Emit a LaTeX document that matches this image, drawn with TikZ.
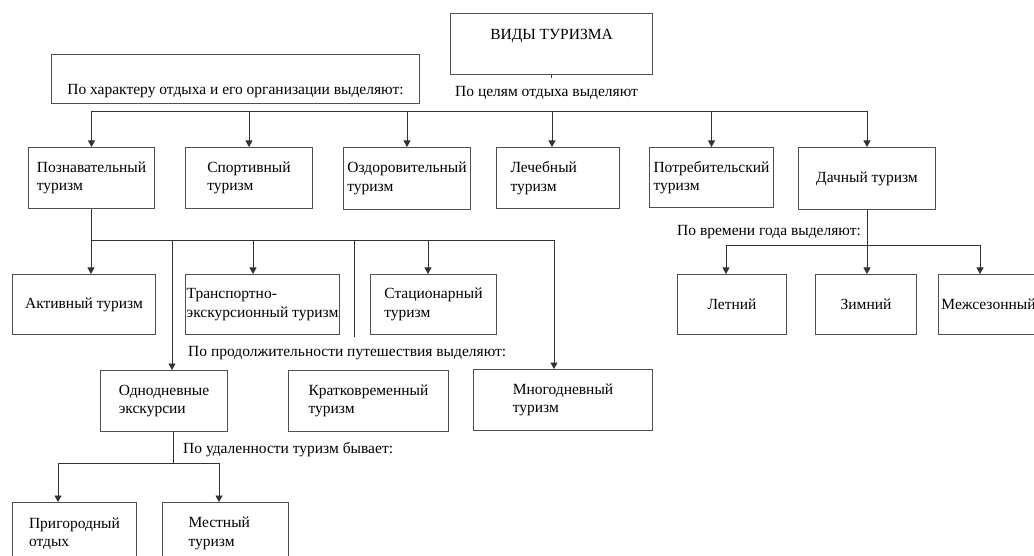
\documentclass[tikz,border=0pt]{standalone}
\usepackage{fontspec}
\setmainfont{Liberation Serif}
\usetikzlibrary{arrows.meta}
\definecolor{ink}{HTML}{333333}
\definecolor{frame}{HTML}{505050}

\begin{document}
\begin{tikzpicture}[
    x=1pt,y=-1pt,
    font=\fontsize{15.5}{18.5}\selectfont,
    box/.style={draw=frame,line width=1pt,anchor=north west,align=left,inner sep=0pt,minimum height=61pt},
    note/.style={anchor=west,inner sep=0pt},
    link/.style={draw=ink,line width=0.8pt},
    arr/.style={link,-{Triangle[width=7pt,length=6.5pt]}}
  ]
  \useasboundingbox (0,0) rectangle (1034,556);

  % the root and the first split
  \node[box,minimum width=202pt] (vidy) at (450,13) {ВИДЫ ТУРИЗМА\\\mbox{}};
  \coordinate (tick) at ([yshift=-3pt]vidy.south);
  \draw[link] (vidy.south) -- (tick);
  \node[box,minimum width=368pt,minimum height=49pt] (harakter) at (51,54) {\mbox{}\\[16pt]По характеру отдыха и его организации выделяют:};
  \node[note] (celi) at (455,93) {По целям отдыха выделяют};

  \coordinate (busL) at (91,111);
  \coordinate (busR) at (867,111);
  \draw[link] (busL) -- (busR);

  % by purpose
  \node[box,minimum width=126pt] (pozn) at (28,147) {Познавательный\\туризм};
  \node[box,minimum width=127pt] (sport) at (185,147) {Спортивный\\туризм};
  \node[box,minimum width=127pt,minimum height=62pt] (ozdor) at (343,147) {Оздоровительный\\туризм};
  \node[box,minimum width=123pt,text width=95pt] (lech) at (496,147) {Лечебный\\туризм};
  \node[box,minimum width=124pt,minimum height=60pt] (potr) at (649,147) {Потребительский\\туризм};
  \node[box,minimum width=137pt,minimum height=62pt] (dach) at (798,147) {Дачный туризм};

  \foreach \b in {pozn,sport,ozdor,potr,dach}
    \draw[arr] (busL -| \b.north) -- (\b.north);
  \coordinate (lechin) at ([xshift=-6pt]lech.north);
  \draw[arr] (busL -| lechin) -- (lechin);

  % what comes out of the first box
  \node[box,minimum width=143pt,minimum height=60pt] (aktiv) at (12,274) {Активный туризм};
  \node[box,minimum width=154pt,minimum height=60pt] (transp) at (185,274) {Транспортно-\\экскурсионный туризм};
  \node[box,minimum width=126pt,minimum height=60pt] (stac) at (370,274) {Стационарный\\туризм};

  \node[note] (prod) at (188,353) {По продолжительности путешествия выделяют:};
  \node[box,minimum width=127pt] (odnod) at (100,370) {Однодневные\\экскурсии};
  \node[box,minimum width=160pt] (krat) at (288,370) {Кратковременный\\туризм};
  \node[box,minimum width=179pt] (mnogo) at (473,369) {Многодневный\\туризм};

  \coordinate (poznbus) at (554,240);
  \draw[link] (pozn.south) |- (poznbus);
  \foreach \x/\b in {91/aktiv,172/odnod,253/transp,428/stac,554/mnogo}{
    \coordinate (drop) at (\x,240);
    \draw[arr] (drop) -- (drop |- \b.north);
  }
  \coordinate (stub) at (354,337);
  \draw[link] (stub |- poznbus) -- (stub);

  % by distance
  \node[note] (udal) at (183,450) {По удаленности туризм бывает:};
  \node[box,minimum width=124pt,minimum height=62pt] (prig) at (12,502) {Пригородный\\отдых};
  \node[box,minimum width=126pt,minimum height=62pt,text width=74pt] (mest) at (162,502) {Местный\\туризм};

  \coordinate (udalM) at (173,463);
  \coordinate (udalL) at (58,463);
  \coordinate (udalR) at (219,463);
  \draw[link] (udalM |- odnod.south) -- (udalM);
  \draw[link] (udalL) -- (udalR);
  \draw[arr] (udalL) -- (udalL |- prig.north);
  \draw[arr] (udalR) -- (udalR |- mest.north);

  % by season
  \node[note] (sezon) at (677,232) {По времени года выделяют:};
  \node[box,minimum width=109pt,minimum height=60pt] (leto) at (677,274) {Летний};
  \node[box,minimum width=101pt,minimum height=60pt] (zima) at (815,274) {Зимний};
  \node[box,minimum width=100pt,minimum height=60pt] (mezh) at (938,274) {Межсезонный};

  \coordinate (sezL) at (726,245);
  \coordinate (sezR) at (980,245);
  \draw[arr] (dach.south) -- (dach.south |- zima.north);
  \draw[link] (sezL) -- (sezR);
  \draw[arr] (sezL) -- (sezL |- leto.north);
  \draw[arr] (sezR) -- (sezR |- mezh.north);
\end{tikzpicture}
\end{document}
